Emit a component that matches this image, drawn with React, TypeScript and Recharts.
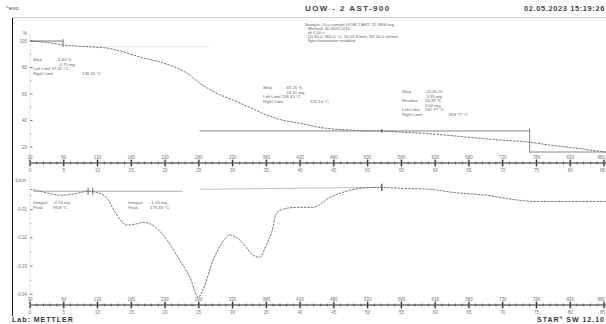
import React from 'react';
import { LineChart, Line, XAxis, YAxis, ReferenceLine } from 'recharts';

// ---- data ----
const tgaMinutes = [0, 2.7, 4.9, 7.0, 9.3, 11.4, 13.3, 16.3, 19.2, 21.7, 23.7, 25.1, 26.6, 28.1, 30.0, 32.5, 35.1, 37.4, 39.9, 42.5, 44.8, 47.3, 49.9, 52.1, 54.7, 59.6, 64.6, 69.5, 73.7, 76.9, 81.8, 85.3];
const tgaPercent = [100, 98.8, 97.0, 96.2, 95.5, 94.7, 92.5, 87.9, 84.2, 79.6, 74.3, 68.3, 63.5, 59.5, 55.5, 50.0, 44.0, 40.2, 38.0, 35.1, 33.6, 32.8, 32.1, 32.0, 31.3, 29.8, 27.5, 25.3, 23.8, 21.5, 18.5, 16.0];

const dtgMinutes = [0, 1.5, 3.2, 4.9, 7.0, 8.6, 9.9, 11.4, 12.9, 14.3, 15.5, 16.7, 18.8, 20.3, 22.2, 23.7, 24.9, 25.6, 27.1, 28.4, 29.6, 31.1, 33.0, 34.0, 35.1, 35.8, 36.5, 37.4, 39.5, 41.9, 44.4, 46.3, 48.8, 51.8, 55.2, 59.2, 62.6, 67.5, 72.5, 74.9, 79.9, 85.3];
const dtgValues = [-0.0028, -0.0035, -0.0045, -0.0049, -0.0042, -0.0035, -0.0039, -0.006, -0.012, -0.0155, -0.0152, -0.0145, -0.0166, -0.0208, -0.028, -0.034, -0.041, -0.0385, -0.028, -0.0219, -0.019, -0.0208, -0.026, -0.0269, -0.0219, -0.018, -0.0113, -0.0099, -0.0092, -0.0092, -0.0057, -0.0039, -0.0025, -0.0021, -0.0025, -0.0028, -0.0039, -0.0049, -0.0067, -0.0071, -0.0071, -0.0071];

const minuteTicks = [0,1,2,3,4,5,6,7,8,9,10,11,12,13,14,15,16,17,18,19,20,21,22,23,24,25,26,27,28,29,30,31,32,33,34,35,36,37,38,39,40,41,42,43,44,45,46,47,48,49,50,51,52,53,54,55,56,57,58,59,60,61,62,63,64,65,66,67,68,69,70,71,72,73,74,75,76,77,78,79,80,81,82,83,84,85];
const minuteLabels = ['0','5','10','15','20','25','30','35','40','45','50','55','60','65','70','75','80','85'];
const tempLabels = ['30','80','130','180','230','280','330','380','430','480','530','580','630','680','730','780','830','880'];

const tgaMajorTicks = [20, 40, 60, 80, 100];
const tgaMajorLabels = ['20', '40', '60', '80', '100'];
const tgaMinorTicks = [30, 50, 70, 90];
const dtgMajorTicks = [-0.04, -0.03, -0.02, -0.01];
const dtgMajorLabels = ['-0.04', '-0.03', '-0.02', '-0.01'];
const dtgMinorTicks = [-0.035, -0.025, -0.015, -0.005];

const tgaData = tgaMinutes.map((t, i) => ({ t, v: tgaPercent[i] }));
const dtgData = dtgMinutes.map((t, i) => ({ t, v: dtgValues[i] }));

const FONT = 'Liberation Sans, Arial, sans-serif';
const CURVE = '#6a6a6a';

const XTick = (props: any) => {
  const { x, y, payload } = props;
  const v = payload.value as number;
  if (v % 5 !== 0) {
    return <line x1={x} x2={x} y1={y - 1.5} y2={y + 1.5} stroke="#333" strokeWidth={0.6} />;
  }
  const idx = v / 5;
  const anchor = x > 598 ? 'end' : 'middle';
  const tx = x > 598 ? 605 : x;
  return (
    <g>
      <line x1={x} x2={x} y1={y - 3.5} y2={y + 3.5} stroke="#222" strokeWidth={0.9} />
      <line x1={x - 1.2} x2={x + 1.2} y1={y - 2} y2={y - 2} stroke="#222" strokeWidth={0.6} />
      <line x1={x - 1.2} x2={x + 1.2} y1={y + 2} y2={y + 2} stroke="#222" strokeWidth={0.6} />
      <text x={tx} y={y - 4.5} textAnchor={anchor} fontSize={4.5} fill="#777" fontFamily={FONT}>{tempLabels[idx]}</text>
      <text x={tx} y={y + 9} textAnchor={anchor} fontSize={4.5} fill="#777" fontFamily={FONT}>{minuteLabels[idx]}</text>
    </g>
  );
};

const makeYTick = (major: number[], labels: string[]) => (props: any) => {
  const { x, y, payload } = props;
  const v = payload.value as number;
  const i = major.findIndex((m) => Math.abs(m - v) < 1e-9);
  if (i < 0) {
    return <line x1={x} x2={x + 1.5} y1={y} y2={y} stroke="#666" strokeWidth={0.5} />;
  }
  return (
    <g>
      <line x1={x} x2={x + 2.5} y1={y} y2={y} stroke="#444" strokeWidth={0.7} />
      <text x={x - 3} y={y + 1.6} textAnchor="end" fontSize={4.5} fill="#777" fontFamily={FONT}>{labels[i]}</text>
    </g>
  );
};

const TgaYTick = makeYTick(tgaMajorTicks, tgaMajorLabels);
const DtgYTick = makeYTick(dtgMajorTicks, dtgMajorLabels);

const T = ({ x, y, children, size = 4.3, fill = '#666', anchor = 'start' as any, weight = 'normal' as any, ls = 0 }: any) => (
  <text x={x} y={y} fontSize={size} fill={fill} textAnchor={anchor} fontWeight={weight} letterSpacing={ls} fontFamily={FONT}>{children}</text>
);

export default function App() {
  return (
    <div style={{ position: 'absolute', left: 0, top: 0, width: 606, height: 324, background: '#fff', overflow: 'hidden' }}>
      <div style={{ position: 'absolute', left: 0, top: 0 }}>
        <LineChart width={606} height={175} data={tgaData} margin={{ top: 34, right: 0, left: 0, bottom: 0 }}>
          <XAxis dataKey="t" type="number" domain={[0, 85.3]} ticks={minuteTicks} interval={0} tick={XTick} tickSize={0} tickMargin={0} tickLine={false} height={12} axisLine={{ stroke: '#222', strokeWidth: 1 }} allowDataOverflow />
          <YAxis type="number" domain={[7.9, 105.3]} ticks={[...tgaMajorTicks, ...tgaMinorTicks]} interval={0} tick={TgaYTick} tickSize={0} tickMargin={0} tickLine={false} width={30} axisLine={{ stroke: '#e4e4e4' }} allowDataOverflow />
          <ReferenceLine segment={[{ x: 0, y: 100 }, { x: 4.9, y: 100 }]} stroke="#555" strokeWidth={0.8} />
          <ReferenceLine segment={[{ x: 4.9, y: 101.5 }, { x: 4.9, y: 95.3 }]} stroke="#555" strokeWidth={0.8} />
          <ReferenceLine segment={[{ x: 4.9, y: 95.8 }, { x: 26.5, y: 95.8 }]} stroke="#ddd" strokeWidth={0.6} />
          <ReferenceLine segment={[{ x: 25.1, y: 32.1 }, { x: 74.0, y: 32.1 }]} stroke="#555" strokeWidth={0.7} />
          <ReferenceLine segment={[{ x: 74.0, y: 34.0 }, { x: 74.0, y: 15.5 }]} stroke="#555" strokeWidth={0.7} />
          <ReferenceLine segment={[{ x: 74.0, y: 16.2 }, { x: 85.3, y: 16.2 }]} stroke="#555" strokeWidth={0.7} />
          <ReferenceLine segment={[{ x: 52.1, y: 33.3 }, { x: 52.1, y: 30.9 }]} stroke="#333" strokeWidth={1.2} />
          <Line dataKey="v" type="monotone" stroke={CURVE} strokeWidth={0.9} strokeDasharray="2.5 1" dot={false} isAnimationActive={false} />
        </LineChart>
      </div>
      <div style={{ position: 'absolute', left: 0, top: 170 }}>
        <LineChart width={606} height={147} data={dtgData} margin={{ top: 6, right: 0, left: 0, bottom: 0 }}>
          <XAxis dataKey="t" type="number" domain={[0, 85.3]} ticks={minuteTicks} interval={0} tick={XTick} tickSize={0} tickMargin={0} tickLine={false} height={12} axisLine={{ stroke: '#222', strokeWidth: 1 }} allowDataOverflow />
          <YAxis type="number" domain={[-0.04376, 0.0019]} ticks={[...dtgMajorTicks, ...dtgMinorTicks]} interval={0} tick={DtgYTick} tickSize={0} tickMargin={0} tickLine={false} width={30} axisLine={{ stroke: '#e4e4e4' }} allowDataOverflow />
          <ReferenceLine segment={[{ x: 0.5, y: -0.0035 }, { x: 22.6, y: -0.0035 }]} stroke="#777" strokeWidth={0.6} />
          <ReferenceLine segment={[{ x: 25.2, y: -0.0028 }, { x: 52, y: -0.0021 }]} stroke="#999" strokeWidth={0.6} />
          <ReferenceLine segment={[{ x: 8.6, y: -0.0022 }, { x: 8.6, y: -0.0048 }]} stroke="#444" strokeWidth={0.8} />
          <ReferenceLine segment={[{ x: 9.3, y: -0.0022 }, { x: 9.3, y: -0.0048 }]} stroke="#444" strokeWidth={0.8} />
          <ReferenceLine segment={[{ x: 52.1, y: -0.0008 }, { x: 52.1, y: -0.0034 }]} stroke="#333" strokeWidth={1.2} />
          <Line dataKey="v" type="monotone" stroke={CURVE} strokeWidth={0.9} strokeDasharray="2.5 1" dot={false} isAnimationActive={false} />
        </LineChart>
      </div>
      <svg width={606} height={324} style={{ position: 'absolute', left: 0, top: 0, pointerEvents: 'none' }}>
        <line x1={12} x2={606} y1={17.5} y2={17.5} stroke="#ccc" strokeWidth={1} />
        <line x1={12.5} x2={12.5} y1={18} y2={316} stroke="#111" strokeWidth={1} />
        <T x={6} y={10} size={6} fill="#444">^exo</T>
        <T x={305} y={11} size={8} fill="#444" weight="bold" ls={1.4}>UOW - 2 AST-900</T>
        <T x={605} y={11} size={7.5} fill="#444" weight="bold" ls={0.6} anchor="end">02.05.2023 15:19:26</T>
        <T x={305} y={26}>Sample: Ocu sample UOW 2 AST, 21.3900 mg</T>
        <T x={308} y={30}>Method: 30-900C@10</T>
        <T x={308} y={34}>dt 1,00 s</T>
        <T x={308} y={38}>[1] 30.0..900.0 °C, 10.00 K/min, N2 50.0 ml/min</T>
        <T x={308} y={42}>Synchronization enabled</T>
        <T x={23} y={35} size={4.5} fill="#777">%</T>
        <T x={15} y={182} size={4.5} fill="#777">1/min</T>
        {/* step 1 */}
        <T x={33} y={61}>Step</T>
        <T x={58} y={61}>3.44 %</T>
        <T x={58} y={65.5}>-0.75 mg</T>
        <T x={33} y={70}>Left Limit 37.45 °C</T>
        <T x={33} y={74.5}>Right Limit</T>
        <T x={82} y={74.5}>136.45 °C</T>
        {/* step 2 */}
        <T x={263} y={89}>Step</T>
        <T x={285} y={89}>-63.21 %</T>
        <T x={285} y={93.5}>-13.51 mg</T>
        <T x={263} y={98}>Left Limit 136.45 °C</T>
        <T x={263} y={102.5}>Right Limit</T>
        <T x={310} y={102.5}>555.14 °C</T>
        {/* step 3 */}
        <T x={402} y={93}>Step</T>
        <T x={425} y={93}>-15.65 %</T>
        <T x={425} y={97.5}>-3.35 mg</T>
        <T x={402} y={102}>Residue</T>
        <T x={425} y={102}>16.39 %</T>
        <T x={425} y={106.5}>3.50 mg</T>
        <T x={402} y={111}>Left Limit</T>
        <T x={425} y={111}>567.77 °C</T>
        <T x={402} y={115.5}>Right Limit</T>
        <T x={449} y={115.5}>853.77 °C</T>
        {/* DTG peaks */}
        <T x={33} y={204}>Integral</T>
        <T x={53} y={204}>-0.74 mg</T>
        <T x={33} y={208.5}>Peak</T>
        <T x={53} y={208.5}>93.8 °C</T>
        <T x={128} y={204}>Integral</T>
        <T x={150} y={204}>-1.05 mg</T>
        <T x={128} y={208.5}>Peak</T>
        <T x={150} y={208.5}>173.33 °C</T>
        <T x={12} y={322} size={7} fill="#333" weight="bold" ls={1}>Lab: METTLER</T>
        <T x={605} y={322} size={7} fill="#333" weight="bold" ls={1} anchor="end">STAR° SW 12.10</T>
      </svg>
    </div>
  );
}
